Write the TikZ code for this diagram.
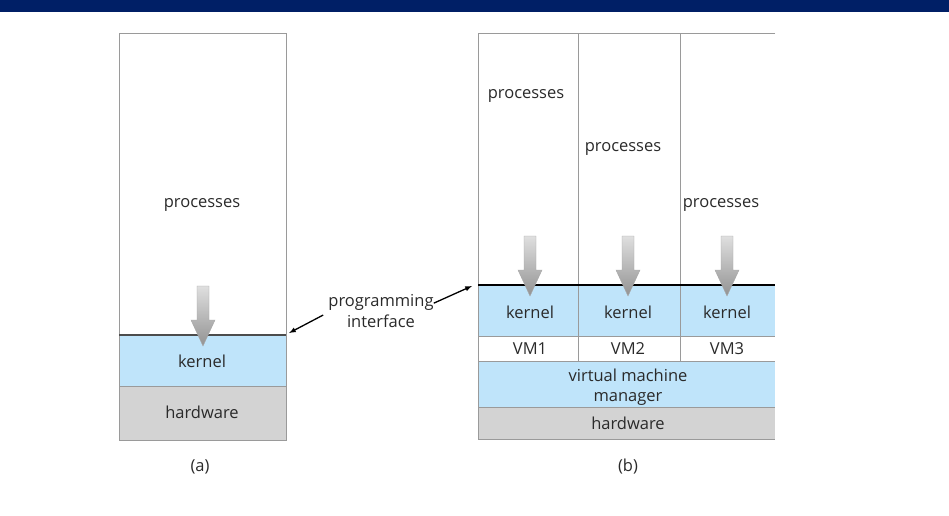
\documentclass[tikz,border=0pt]{standalone}
\usepackage{fontspec}
\setmainfont{Open Sans}
\definecolor{navy}{HTML}{001F66}
\definecolor{kernblue}{HTML}{BFE4FA}
\definecolor{hwgray}{HTML}{D3D3D3}
\definecolor{boxline}{HTML}{9A9A9A}
\definecolor{txt}{HTML}{2A2A2A}
\tikzset{
	lbl/.style={text=txt, font=\fontsize{16.5}{18}\selectfont, inner sep=0pt},
	layer/.style={draw=boxline, line width=0.8pt},
	ptr/.style={-latex, line width=1.3pt}
}
% grey down arrow: \pushdown{x}{top}
\newcommand{\pushdown}[2]{
	\shade[top color=gray!25, bottom color=gray!85, draw=gray!70, line width=0.4pt]
		(#1-6,#2) -- (#1+6,#2) -- (#1+6,#2+34) -- (#1+12,#2+34) -- (#1,#2+60)
		-- (#1-12,#2+34) -- (#1-6,#2+34) -- cycle;
}
\begin{document}
\begin{tikzpicture}[x=1pt, y=-1pt]
	\useasboundingbox (0,0) rectangle (949,515);
	%title band
	\fill[navy] (0,0) rectangle (949,12);
	
	%(a) plain machine
	\draw[layer, fill=white] (119,33) rectangle (286,335);
	\draw[layer, fill=kernblue] (119,335) rectangle (286,386);
	\draw[layer, fill=hwgray] (119,386) rectangle (286,440);
	\draw[gray!60!black, line width=1.3pt] (119,335) -- (286,335);
	\node[lbl] (procA) at (202,205) {processes};
	\pushdown{203}{286}
	\node[lbl] (kernA) at (202,361) {kernel};
	\node[lbl] (hwA) at (202,412) {hardware};
	\node[lbl] (capA) at (200,467) {(a)};
	
	%(b) virtual machines
	\fill[kernblue] (478,285) rectangle (775,336);
	\fill[kernblue] (478,361) rectangle (775,407);
	\fill[hwgray] (478,407) rectangle (775,439);
	\draw[layer] (775,33) -- (478,33) -- (478,439) -- (775,439);
	\foreach \y in {336, 361, 407}{
		\draw[layer] (478,\y) -- (775,\y);
	}
	\foreach \x in {578, 680}{
		\draw[layer] (\x,33) -- (\x,361);
	}
	\draw[line width=2.6pt] (478,285) -- (775,285);
	
	\node[lbl] (procB1) at (526,96) {processes};
	\node[lbl] (procB2) at (623,149) {processes};
	\node[lbl] (procB3) at (721,205) {processes};
	\foreach \x/\n in {530/1, 628/2, 727/3}{
		\pushdown{\x}{236}
		\node[lbl] (kern\n) at (\x,312) {kernel};
		\node[lbl] (vm\n) at (\x,349) {VM\n};
	}
	\node[lbl, align=center, font=\fontsize{16.5}{20}\selectfont] (vmm) at (628,387) {virtual machine\\manager};
	\node[lbl] (hwB) at (628,423) {hardware};
	\node[lbl] (capB) at (628,467) {(b)};
	
	%programming interface
	\node[lbl, align=center, font=\fontsize{16.5}{21}\selectfont] (iface) at (381,311) {programming\\interface};
	\coordinate (ifaceA) at (289,333);
	\coordinate (ifaceB) at (472,286);
	\draw[ptr] (iface.west) ++(-5,4) -- (ifaceA);
	\draw[ptr] (iface.north east) ++(0,9) -- (ifaceB);
\end{tikzpicture}
\end{document}
